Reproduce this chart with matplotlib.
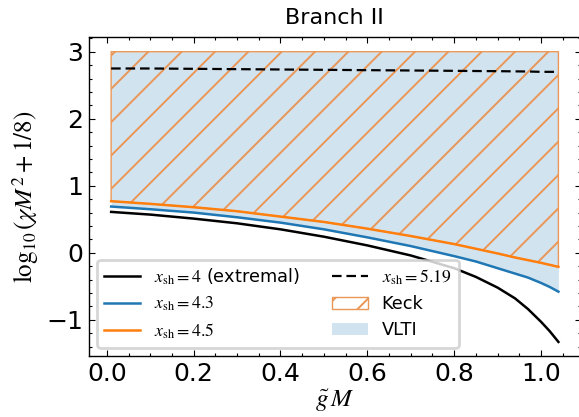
import numpy as np
import matplotlib
matplotlib.use("Agg")
import matplotlib.pyplot as plt

# Branch II constraint curves: log10(chi M^2 + 1/8) versus g~M
gM = [0.01, 0.1, 0.2, 0.3, 0.4, 0.5, 0.6, 0.7, 0.8, 0.85, 0.9, 0.94, 0.97, 1.0, 1.02, 1.04]
y_xsh_4 = [0.61, 0.57, 0.51, 0.44, 0.35, 0.24, 0.11, -0.04, -0.23, -0.36, -0.52, -0.68, -0.84, -1.03, -1.17, -1.33]
y_xsh_43 = [0.69, 0.65, 0.60, 0.53, 0.45, 0.35, 0.23, 0.10, -0.05, -0.13, -0.23, -0.31, -0.37, -0.45, -0.51, -0.58]
y_xsh_45 = [0.77, 0.73, 0.68, 0.62, 0.54, 0.46, 0.36, 0.25, 0.13, 0.06, -0.01, -0.07, -0.11, -0.15, -0.18, -0.21]
y_xsh_519 = [2.75, 2.75, 2.745, 2.74, 2.735, 2.73, 2.725, 2.72, 2.715, 2.712, 2.71, 2.707, 2.705, 2.70, 2.70, 2.70]
y_upper = 3.0

plt.rcParams.update({
    "mathtext.fontset": "stix",
    "font.family": "DejaVu Sans",
    "hatch.linewidth": 0.7,
    "xtick.direction": "in",
    "ytick.direction": "in",
    "xtick.top": True,
    "ytick.right": True,
    "xtick.minor.visible": True,
    "ytick.minor.visible": True,
    "xtick.major.size": 2.2,
    "ytick.major.size": 2.2,
    "xtick.minor.size": 1.1,
    "ytick.minor.size": 1.1,
    "xtick.major.width": 0.4,
    "ytick.major.width": 0.4,
    "xtick.minor.width": 0.4,
    "ytick.minor.width": 0.4,
    "axes.linewidth": 0.5,
})

DPI = 200
fig = plt.figure(figsize=(579 / DPI, 417 / DPI), dpi=DPI)
ax = fig.add_axes([0.1537, 0.1463, 0.849, 0.765])

c_blue = "#1f77b4"
c_orange = "#ff7f0e"

ax.fill_between(gM, y_xsh_43, y_upper, color=c_blue, alpha=0.2, lw=0, label="VLTI")
ax.fill_between(gM, y_xsh_45, y_upper, facecolor="none", edgecolor="#ea9656",
                hatch="//", lw=0.5, label="Keck")

ax.plot(gM, y_xsh_4, color="black", lw=0.9, label=r"$x_{\rm sh}=4$ (extremal)")
ax.plot(gM, y_xsh_43, color=c_blue, lw=0.9, label=r"$x_{\rm sh}=4.3$")
ax.plot(gM, y_xsh_45, color=c_orange, lw=0.9, label=r"$x_{\rm sh}=4.5$")
ax.plot(gM, y_xsh_519, color="black", lw=0.8, ls=(0, (4.3, 2.2)), label=r"$x_{\rm sh}=5.19$")

ax.set_xlim(-0.041, 1.091)
ax.set_ylim(-1.54, 3.22)
ax.set_xticks([0.0, 0.2, 0.4, 0.6, 0.8, 1.0])
ax.set_yticks([-1, 0, 1, 2, 3])
ax.xaxis.set_minor_locator(matplotlib.ticker.MultipleLocator(0.05))
ax.yaxis.set_minor_locator(matplotlib.ticker.MultipleLocator(0.2))
ax.tick_params(labelsize=9, pad=2)

ax.set_xlabel(r"$\tilde{g}\,M$", fontsize=9, labelpad=1)
ax.set_ylabel(r"$\log_{10}(\chi M^2+1/8)$", fontsize=9, labelpad=2)
ax.set_title("Branch II", fontsize=8, pad=4.5)

handles, labels = ax.get_legend_handles_labels()
order = [labels.index(l) for l in [r"$x_{\rm sh}=4$ (extremal)", r"$x_{\rm sh}=4.3$",
                                   r"$x_{\rm sh}=4.5$", r"$x_{\rm sh}=5.19$", "Keck", "VLTI"]]
ax.legend([handles[i] for i in order], [labels[i] for i in order], ncol=2,
          loc="lower left", fontsize=6.4, frameon=True, handlelength=2.0,
          columnspacing=1.8, borderaxespad=0.45, labelspacing=0.45)

fig.savefig("out.png", dpi=DPI)
